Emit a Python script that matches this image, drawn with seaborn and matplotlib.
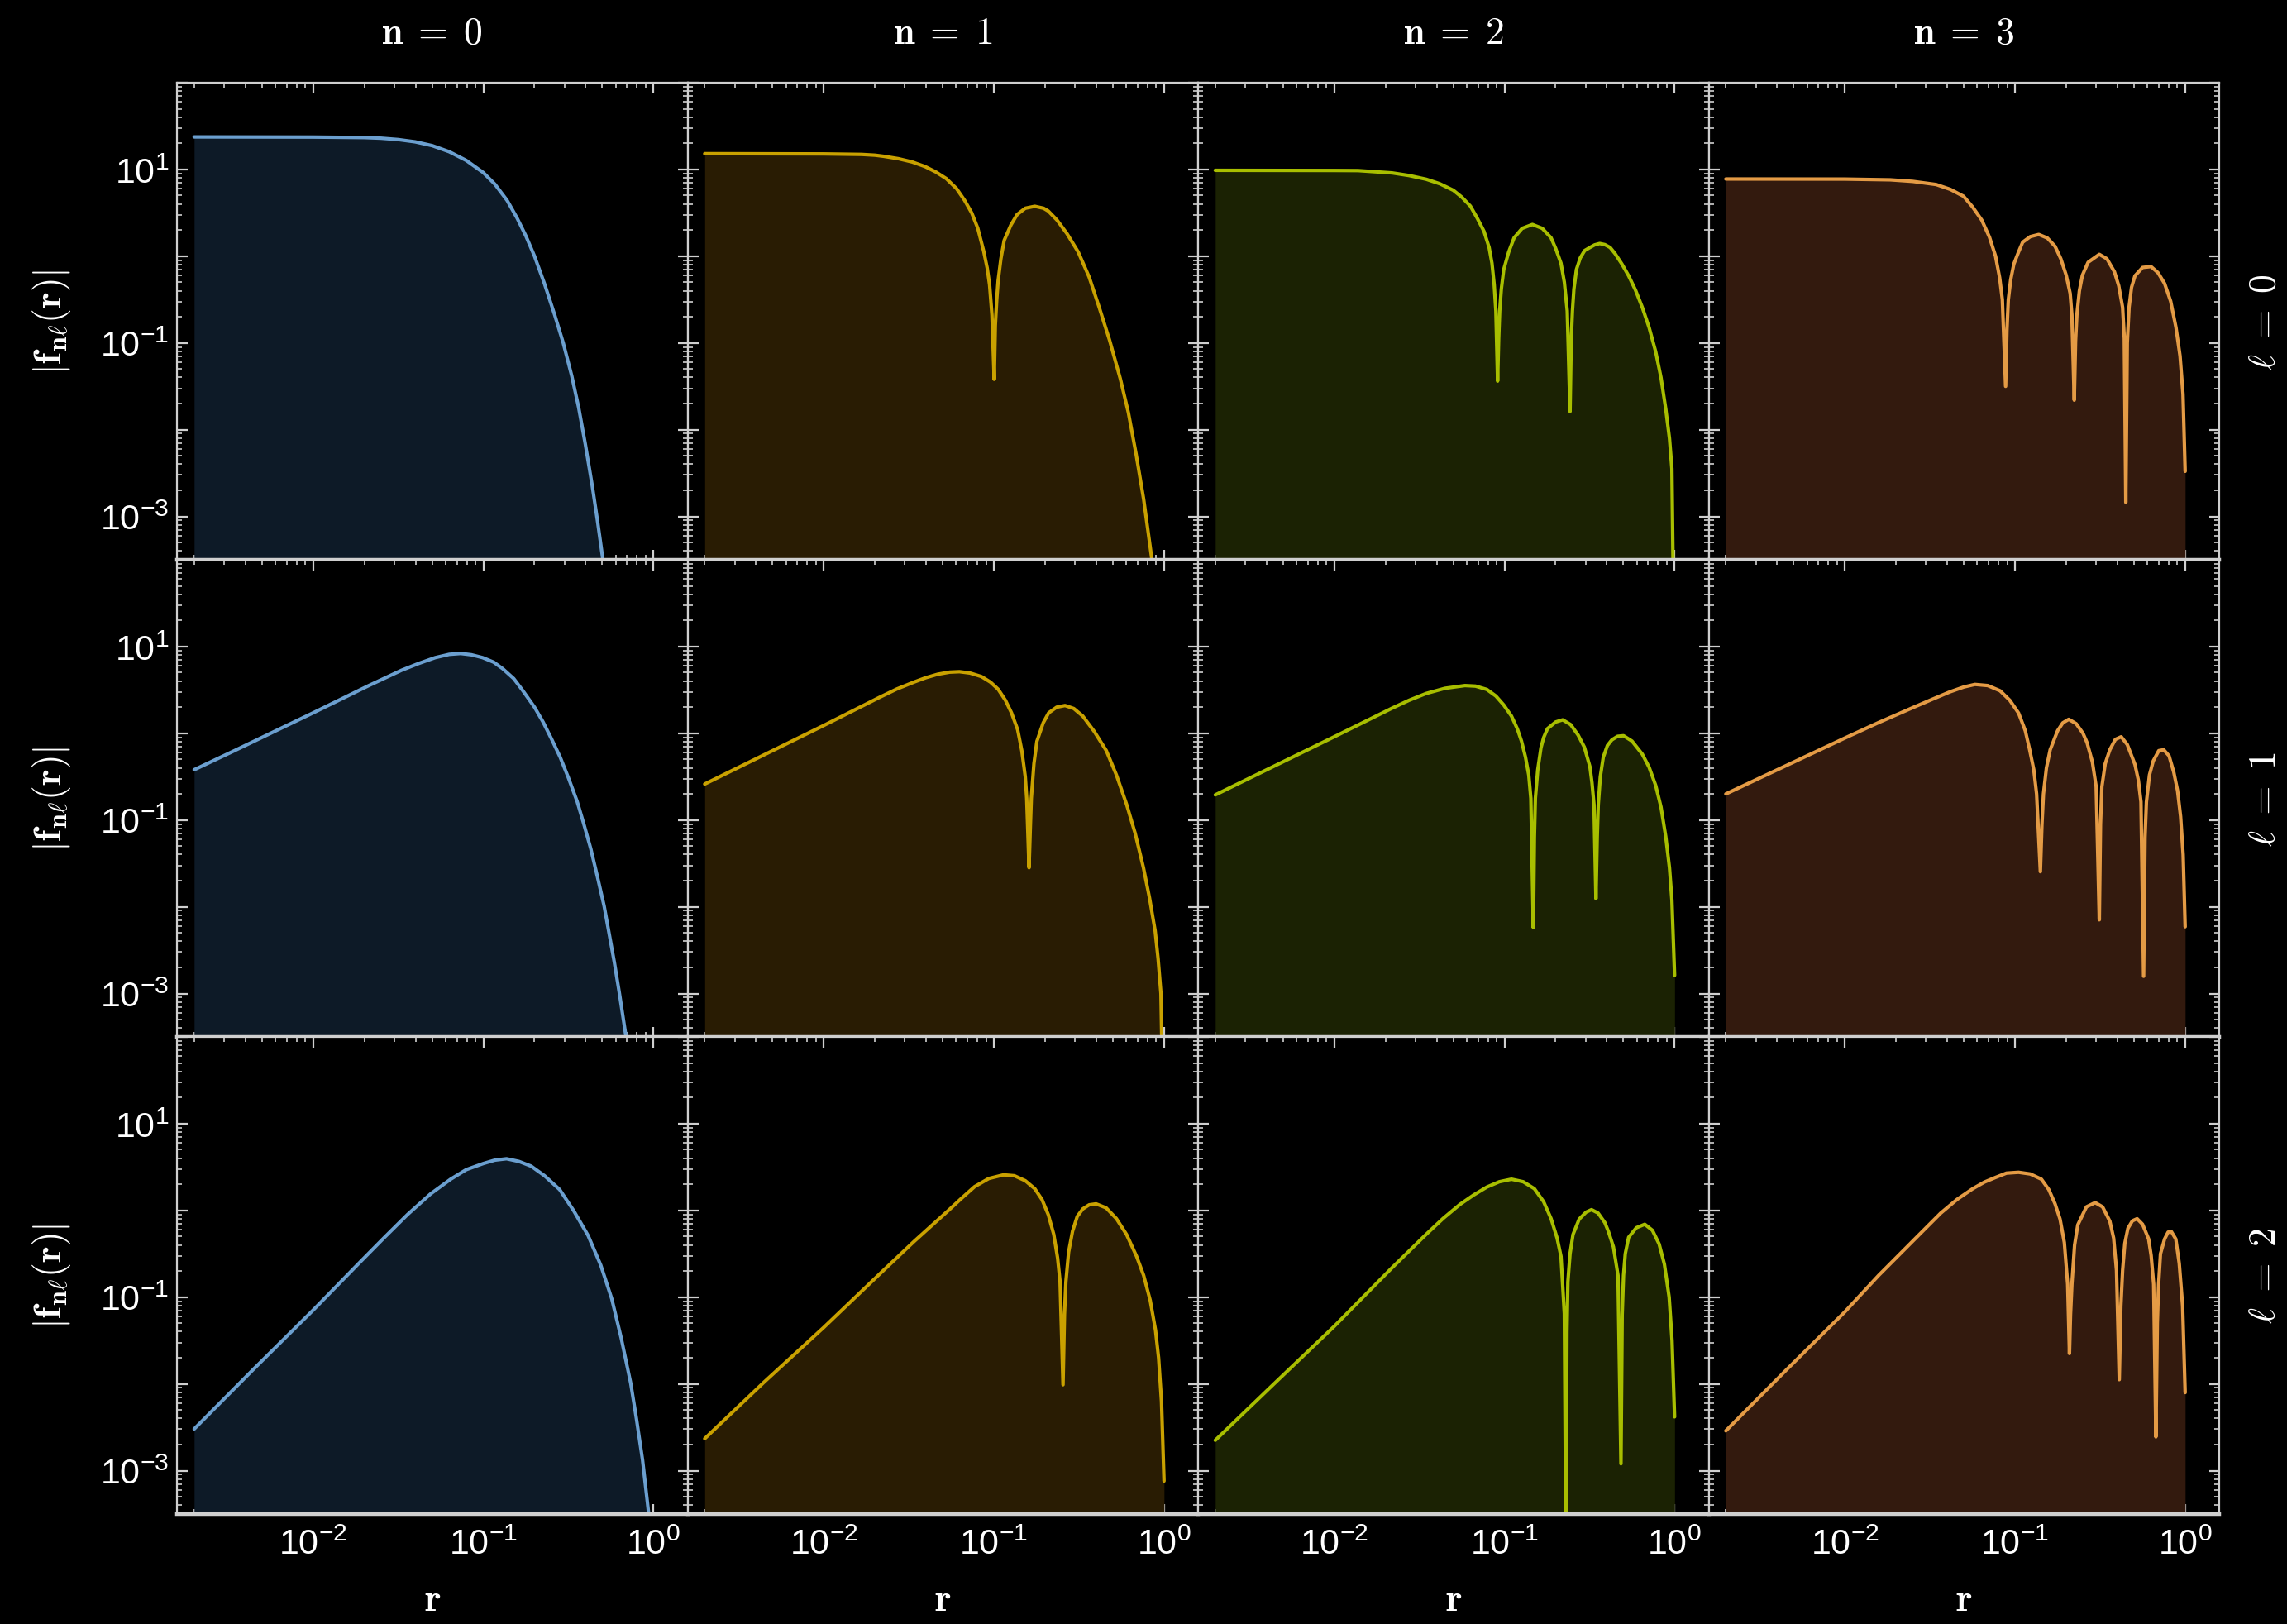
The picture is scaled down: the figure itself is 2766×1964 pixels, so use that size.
import numpy as np
import matplotlib
matplotlib.use("Agg")
import matplotlib.pyplot as plt
from matplotlib.ticker import LogLocator, FuncFormatter, NullFormatter
import seaborn as sns

# |f_nl(r)|, one r/f pair per panel (row = l, column = n)
r_l0_n0 = [0.002, 0.01, 0.02, 0.0251, 0.0316, 0.0398, 0.0501, 0.0631, 0.0794, 0.1,
           0.117, 0.138, 0.158, 0.178, 0.2, 0.229, 0.263, 0.295, 0.331, 0.363,
           0.398, 0.437, 0.468, 0.513]
f_l0_n0 = [23.7, 23.6, 23.3, 22.9, 22.1, 20.8, 18.8, 16.0, 12.7, 9.2,
           6.76, 4.4, 2.75, 1.71, 1.0, 0.48, 0.209, 0.1, 0.0417, 0.0182,
           0.00676, 0.00224, 0.000912, 0.000251]

r_l0_n1 = [0.002, 0.01, 0.0167, 0.02, 0.0224, 0.0275, 0.0331, 0.0394, 0.0457, 0.0525,
           0.0603, 0.0673, 0.0741, 0.0804, 0.0871, 0.0914, 0.0944, 0.0975, 0.1005, 0.102,
           0.104, 0.106, 0.110, 0.115, 0.126, 0.137, 0.153, 0.174, 0.196, 0.209,
           0.235, 0.269, 0.313, 0.363, 0.416, 0.479, 0.553, 0.617, 0.685, 0.759,
           0.849]
f_l0_n1 = [15.2, 15.1, 14.9, 14.6, 14.2, 13.3, 12.2, 10.8, 9.33, 7.85,
           6.03, 4.41, 3.16, 2.11, 1.15, 0.73, 0.468, 0.209, 0.038, 0.158,
           0.316, 0.525, 0.933, 1.52, 2.29, 3.02, 3.57, 3.76, 3.57, 3.31,
           2.61, 1.82, 1.12, 0.575, 0.257, 0.107, 0.0389, 0.0158, 0.00525, 0.00158,
           0.000316]

r_l0_n2 = [0.002, 0.01, 0.0138, 0.0219, 0.0275, 0.0347, 0.0417, 0.0501, 0.0562, 0.0631,
           0.0692, 0.0759, 0.0813, 0.0845, 0.0871, 0.0891, 0.0912, 0.0925, 0.0938, 0.0959,
           0.0991, 0.106, 0.114, 0.127, 0.146, 0.167, 0.188, 0.2, 0.215, 0.225,
           0.234, 0.243, 0.247, 0.251, 0.256, 0.265, 0.279, 0.296, 0.318, 0.339,
           0.363, 0.389, 0.418, 0.447, 0.49, 0.537, 0.589, 0.646, 0.708, 0.774,
           0.832, 0.887, 0.933, 0.964, 1.0]
f_l0_n2 = [9.77, 9.73, 9.7, 9.12, 8.51, 7.71, 6.84, 5.75, 4.79, 3.78,
           2.75, 1.93, 1.26, 0.83, 0.468, 0.234, 0.0363, 0.112, 0.234, 0.417,
           0.703, 1.12, 1.63, 2.09, 2.32, 2.09, 1.63, 1.23, 0.83, 0.501,
           0.234, 0.0162, 0.112, 0.234, 0.417, 0.703, 0.955, 1.16, 1.26, 1.35,
           1.40, 1.36, 1.26, 1.07, 0.813, 0.594, 0.407, 0.257, 0.151, 0.0794,
           0.0398, 0.0174, 0.00794, 0.00355, 1e-5]

r_l0_n3 = [0.002, 0.01, 0.0185, 0.0251, 0.0344, 0.0417, 0.0499, 0.0562, 0.0638, 0.0708,
           0.0769, 0.0813, 0.0843, 0.0881, 0.0897, 0.0914, 0.0944, 0.0985, 0.105, 0.111,
           0.123, 0.138, 0.155, 0.172, 0.186, 0.2, 0.211, 0.216, 0.223, 0.227,
           0.231, 0.239, 0.249, 0.269, 0.313, 0.347, 0.384, 0.407, 0.429, 0.439,
           0.448, 0.457, 0.468, 0.484, 0.507, 0.562, 0.63, 0.692, 0.757, 0.822,
           0.883, 0.933, 0.971, 1.0]
f_l0_n3 = [7.76, 7.74, 7.59, 7.28, 6.7, 5.89, 4.9, 3.72, 2.61, 1.66,
           1.0, 0.562, 0.316, 0.0316, 0.141, 0.316, 0.537, 0.813, 1.12, 1.45,
           1.68, 1.78, 1.62, 1.30, 0.933, 0.603, 0.372, 0.209, 0.0219, 0.105,
           0.209, 0.398, 0.603, 0.851, 1.05, 0.933, 0.661, 0.457, 0.257, 0.112,
           0.00145, 0.1, 0.257, 0.437, 0.594, 0.741, 0.759, 0.646, 0.484, 0.302,
           0.151, 0.0708, 0.0257, 0.00331]

r_l1_n0 = [0.002, 0.00337, 0.01, 0.021, 0.0331, 0.0417, 0.0522, 0.0631, 0.0736, 0.0851,
           0.0991, 0.115, 0.130, 0.151, 0.171, 0.2, 0.225, 0.251, 0.283, 0.316,
           0.356, 0.389, 0.428, 0.468, 0.513, 0.589, 0.631, 0.69]
f_l1_n0 = [0.38, 0.617, 1.72, 3.51, 5.33, 6.38, 7.45, 8.13, 8.32, 8.04,
           7.45, 6.61, 5.56, 4.27, 3.09, 2.0, 1.34, 0.871, 0.531, 0.309,
           0.164, 0.0912, 0.0468, 0.0224, 0.0102, 0.00229, 0.001, 0.000316]

r_l1_n1 = [0.002, 0.01, 0.0214, 0.0269, 0.0339, 0.0398, 0.0467, 0.055, 0.0628, 0.0724,
           0.0845, 0.0955, 0.106, 0.117, 0.127, 0.138, 0.146, 0.153, 0.156, 0.161,
           0.164, 0.166, 0.172, 0.179, 0.195, 0.21, 0.234, 0.262, 0.295, 0.333,
           0.389, 0.458, 0.525, 0.603, 0.676, 0.757, 0.822, 0.887, 0.923, 0.959,
           1.0]
f_l1_n1 = [0.26, 1.23, 2.61, 3.24, 3.89, 4.37, 4.79, 5.07, 5.13, 4.95,
           4.51, 3.89, 3.22, 2.4, 1.72, 1.1, 0.631, 0.316, 0.178, 0.0282,
           0.0891, 0.178, 0.447, 0.807, 1.32, 1.72, 2.0, 2.09, 1.93, 1.58,
           1.05, 0.631, 0.331, 0.151, 0.0708, 0.0282, 0.0126, 0.00525, 0.00251, 0.001,
           1e-5]

r_l1_n2 = [0.002, 0.01, 0.0219, 0.0275, 0.0347, 0.0447, 0.0586, 0.0676, 0.0789, 0.0891,
           0.0991, 0.110, 0.119, 0.126, 0.133, 0.139, 0.143, 0.148, 0.150, 0.152,
           0.157, 0.164, 0.170, 0.179, 0.2, 0.22, 0.245, 0.271, 0.295, 0.318,
           0.327, 0.336, 0.345, 0.351, 0.356, 0.366, 0.381, 0.403, 0.428, 0.462,
           0.501, 0.562, 0.646, 0.708, 0.774, 0.832, 0.887, 0.933, 0.964, 1.0]
f_l1_n2 = [0.195, 0.912, 1.95, 2.4, 2.88, 3.3, 3.55, 3.5, 3.2, 2.69,
           2.12, 1.58, 1.13, 0.813, 0.531, 0.331, 0.178, 0.00575, 0.0631, 0.178,
           0.38, 0.682, 0.891, 1.13, 1.35, 1.43, 1.26, 0.955, 0.692, 0.412,
           0.269, 0.151, 0.0124, 0.0631, 0.151, 0.316, 0.531, 0.724, 0.841, 0.923,
           0.938, 0.813, 0.575, 0.407, 0.251, 0.141, 0.0646, 0.0282, 0.012, 0.00162]

r_l1_n3 = [0.002, 0.01, 0.0158, 0.0253, 0.0324, 0.0414, 0.0501, 0.0582, 0.0692, 0.0818,
           0.0933, 0.105, 0.115, 0.122, 0.129, 0.134, 0.141, 0.144, 0.147, 0.153,
           0.161, 0.178, 0.191, 0.207, 0.229, 0.251, 0.265, 0.285, 0.3, 0.313,
           0.318, 0.324, 0.339, 0.361, 0.389, 0.421, 0.457, 0.507, 0.531, 0.55,
           0.57, 0.581, 0.592, 0.617, 0.649, 0.7, 0.748, 0.804, 0.857, 0.902,
           0.94, 0.973, 1.0]
f_l1_n3 = [0.2, 0.881, 1.33, 1.99, 2.45, 3.0, 3.42, 3.66, 3.55, 3.09,
           2.4, 1.71, 1.07, 0.646, 0.38, 0.2, 0.0254, 0.0891, 0.2, 0.398,
           0.646, 1.07, 1.32, 1.45, 1.29, 1.0, 0.783, 0.468, 0.242, 0.00708,
           0.0891, 0.242, 0.447, 0.646, 0.851, 0.912, 0.741, 0.437, 0.288, 0.162,
           0.00158, 0.0631, 0.162, 0.331, 0.479, 0.631, 0.646, 0.55, 0.357, 0.219,
           0.11, 0.0398, 0.00589]

r_l2_n0 = [0.002, 0.00447, 0.01, 0.019, 0.0263, 0.036, 0.049, 0.0643, 0.0794, 0.1,
           0.117, 0.137, 0.162, 0.191, 0.229, 0.281, 0.339, 0.413, 0.49, 0.569,
           0.646, 0.735, 0.794, 0.863, 0.938]
f_l2_n0 = [0.00302, 0.0148, 0.0708, 0.257, 0.49, 0.902, 1.55, 2.29, 2.95, 3.47,
           3.8, 3.94, 3.67, 3.24, 2.51, 1.74, 1.0, 0.513, 0.234, 0.0955,
           0.0339, 0.0102, 0.00398, 0.00132, 0.000316]

r_l2_n1 = [0.002, 0.00447, 0.01, 0.0214, 0.0339, 0.0535, 0.0646, 0.0771, 0.0933, 0.114,
           0.132, 0.153, 0.174, 0.192, 0.209, 0.225, 0.237, 0.245, 0.255, 0.26,
           0.265, 0.275, 0.29, 0.309, 0.333, 0.363, 0.399, 0.457, 0.525, 0.603,
           0.69, 0.759, 0.83, 0.891, 0.929, 0.966, 1.0]
f_l2_n1 = [0.00234, 0.0105, 0.0447, 0.186, 0.437, 0.98, 1.38, 1.88, 2.33, 2.57,
           2.51, 2.2, 1.78, 1.33, 0.891, 0.528, 0.282, 0.15, 0.00977, 0.0631,
           0.15, 0.331, 0.575, 0.851, 1.04, 1.16, 1.19, 1.07, 0.804, 0.525,
           0.295, 0.178, 0.0912, 0.0417, 0.02, 0.00631, 0.000759]

r_l2_n2 = [0.002, 0.00447, 0.01, 0.0219, 0.0347, 0.0437, 0.0547, 0.0661, 0.0789, 0.0933,
           0.11, 0.129, 0.15, 0.17, 0.188, 0.204, 0.215, 0.225, 0.23, 0.233,
           0.236, 0.243, 0.253, 0.275, 0.302, 0.325, 0.355, 0.389, 0.408, 0.437,
           0.465, 0.484, 0.492, 0.501, 0.513, 0.537, 0.596, 0.668, 0.741, 0.811,
           0.871, 0.929, 0.966, 1.0]
f_l2_n2 = [0.00224, 0.0102, 0.0461, 0.219, 0.53, 0.81, 1.17, 1.51, 1.86, 2.14,
           2.29, 2.14, 1.78, 1.26, 0.804, 0.479, 0.295, 0.0646, 1e-4, 0.0398,
           0.15, 0.316, 0.528, 0.794, 0.955, 1.02, 0.933, 0.724, 0.575, 0.38,
           0.178, 0.0012, 0.0631, 0.178, 0.316, 0.49, 0.631, 0.692, 0.589, 0.41,
           0.24, 0.1, 0.0316, 0.00417]

r_l2_n3 = [0.002, 0.00447, 0.01, 0.0158, 0.0253, 0.0366, 0.0457, 0.0565, 0.0661, 0.0769,
           0.0891, 0.105, 0.123, 0.143, 0.158, 0.172, 0.184, 0.195, 0.204, 0.209,
           0.212, 0.216, 0.224, 0.234, 0.263, 0.296, 0.327, 0.361, 0.38, 0.395,
           0.41, 0.419, 0.429, 0.442, 0.461, 0.49, 0.522, 0.562, 0.61, 0.631,
           0.653, 0.673, 0.686, 0.698, 0.716, 0.757, 0.794, 0.83, 0.881, 0.923,
           0.966, 1.0]
f_l2_n3 = [0.00288, 0.0141, 0.0676, 0.178, 0.45, 0.93, 1.34, 1.78, 2.12, 2.4,
           2.69, 2.75, 2.63, 2.29, 1.74, 1.19, 0.794, 0.427, 0.141, 0.0224,
           0.0631, 0.141, 0.398, 0.682, 1.1, 1.23, 1.1, 0.75, 0.479, 0.204,
           0.0112, 0.0794, 0.204, 0.417, 0.622, 0.759, 0.802, 0.692, 0.468, 0.302,
           0.141, 0.00245, 0.0501, 0.141, 0.316, 0.468, 0.562, 0.569, 0.468, 0.245,
           0.0794, 0.00794]

curves = [
    [(r_l0_n0, f_l0_n0), (r_l0_n1, f_l0_n1), (r_l0_n2, f_l0_n2), (r_l0_n3, f_l0_n3)],
    [(r_l1_n0, f_l1_n0), (r_l1_n1, f_l1_n1), (r_l1_n2, f_l1_n2), (r_l1_n3, f_l1_n3)],
    [(r_l2_n0, f_l2_n0), (r_l2_n1, f_l2_n1), (r_l2_n2, f_l2_n2), (r_l2_n3, f_l2_n3)],
]

col_titles = [r"$\mathbf{n}\;=\;\mathbf{0}$", r"$\mathbf{n}\;=\;\mathbf{1}$",
              r"$\mathbf{n}\;=\;\mathbf{2}$", r"$\mathbf{n}\;=\;\mathbf{3}$"]
row_labels = [r"$\ell\;=\;\mathbf{0}$", r"$\ell\;=\;\mathbf{1}$", r"$\ell\;=\;\mathbf{2}$"]
ylab = r"$|\mathbf{f}_{\mathbf{n}\ell}(\mathbf{r})|$"
xlab = r"$\mathbf{r}$"

line_colors = ["#6b9fcf", "#c9a100", "#a8be00", "#e49b45"]
fill_colors = ["#0d1a27", "#291c03", "#1b2203", "#331a0e"]

# Style
sns.set_theme(style="dark", rc={
    "figure.facecolor": "black",
    "axes.facecolor": "black",
    "axes.edgecolor": "#cfcfcf",
    "axes.grid": False,
    "xtick.color": "#cfcfcf",
    "ytick.color": "#cfcfcf",
    "xtick.labelcolor": "white",
    "ytick.labelcolor": "white",
})
plt.rcParams["font.family"] = ["Liberation Sans", "DejaVu Sans"]
plt.rcParams["mathtext.fontset"] = "custom"
plt.rcParams["mathtext.rm"] = "Liberation Sans"
plt.rcParams["mathtext.it"] = "Liberation Sans:italic"
plt.rcParams["mathtext.bf"] = "Liberation Sans:bold"

W, H = 2766, 1965
L, R, T, B = 214, 2684, 101, 1832

fig, axes = plt.subplots(3, 4, figsize=(W / 200, H / 200), dpi=200, sharex=True, sharey=True)
fig.subplots_adjust(left=L / W, right=R / W, top=1 - T / H, bottom=1 - B / H, wspace=0, hspace=0)


def dec_label(v, pos, odd_only=False):
    e = int(round(np.log10(v)))
    if odd_only and e % 2 == 0:
        return ""
    return r"$\mathregular{10^{%d}}$" % e


for i in range(3):
    for j in range(4):
        ax = axes[i, j]
        ax.set_xscale("log")
        ax.set_yscale("log")
        r, f = curves[i][j]
        ax.fill_between(r, f, 1e-7, color=fill_colors[j], lw=0, zorder=1)
        sns.lineplot(x=r, y=f, ax=ax, color=line_colors[j], lw=1.5, sort=False,
                     estimator=None, zorder=2)
        ax.set_xlim(10 ** -2.8, 10 ** 0.2)
        ax.set_ylim(10 ** -3.5, 100)
        ax.set_xlabel("")
        ax.set_ylabel("")

        ax.xaxis.set_major_locator(LogLocator(base=10, numticks=20))
        ax.xaxis.set_minor_locator(LogLocator(base=10, subs=np.arange(2, 10), numticks=20))
        ax.yaxis.set_major_locator(LogLocator(base=10, numticks=20))
        ax.yaxis.set_minor_locator(LogLocator(base=10, subs=np.arange(2, 10), numticks=20))
        ax.xaxis.set_major_formatter(FuncFormatter(dec_label))
        ax.yaxis.set_major_formatter(FuncFormatter(lambda v, p: dec_label(v, p, True)))
        ax.xaxis.set_minor_formatter(NullFormatter())
        ax.yaxis.set_minor_formatter(NullFormatter())

        ax.tick_params(which="both", direction="in", top=True, right=True, bottom=True, left=True,
                       labelsize=15.5)
        ax.tick_params(which="major", length=4.5, width=0.8)
        ax.tick_params(which="minor", length=2.2, width=0.6)
        ax.tick_params(axis="x", pad=6)
        ax.tick_params(axis="y", pad=3.5)
        for side in ["top", "left", "right"]:
            ax.spines[side].set_linewidth(0.8)
        ax.spines["bottom"].set_linewidth(1.6)

# titles and labels in a Computer Modern look
cw = (R - L) / 4
rh = (B - T) / 3
for j in range(4):
    cx = (L + cw * (j + 0.5)) / W
    fig.text(cx, 1 - 41 / H, col_titles[j], ha="center", va="center", color="white",
             fontsize=16.5, math_fontfamily="cm")
    fig.text(cx, 1 - 1936 / H, xlab, ha="center", va="center", color="white",
             fontsize=16.5, math_fontfamily="cm")
for i in range(3):
    cy = 1 - (T + rh * (i + 0.5)) / H
    fig.text(2740 / W, cy, row_labels[i], ha="center", va="center", rotation=90,
             color="white", fontsize=16.5, math_fontfamily="cm")
    fig.text(63 / W, cy, ylab, ha="center", va="center", rotation=90,
             color="white", fontsize=16.5, math_fontfamily="cm")

fig.savefig("out.png", dpi=200, facecolor="black")
